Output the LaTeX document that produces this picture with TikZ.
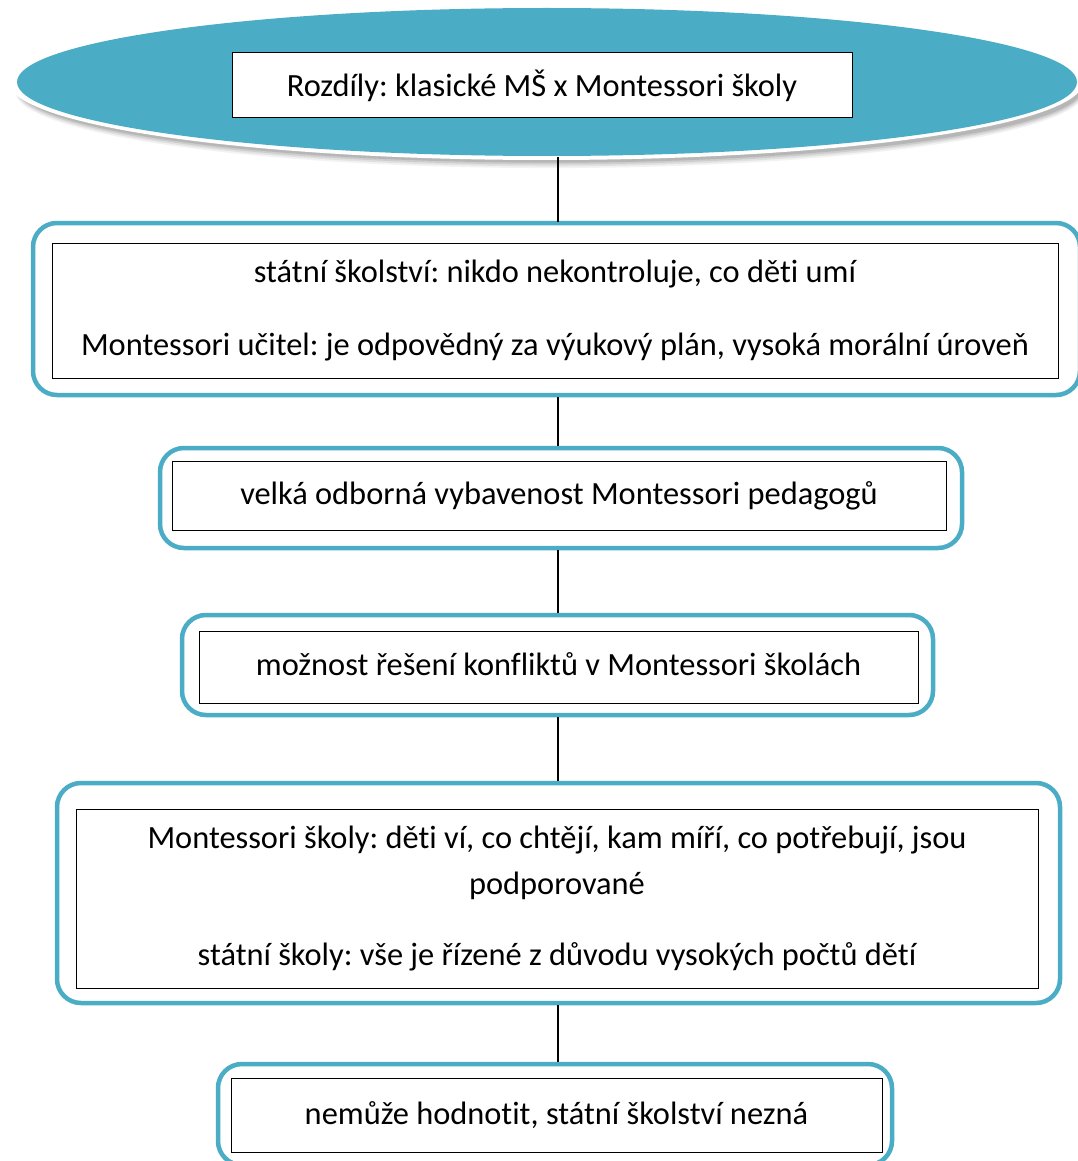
\documentclass[tikz,border=0pt]{standalone}
\usepackage{fontspec}
\setmainfont{Carlito}[Ligatures={NoCommon}]
\usetikzlibrary{shapes.geometric}
\definecolor{accent}{HTML}{4BACC6}
\begin{document}
\frenchspacing
\begin{tikzpicture}[x=1pt,y=-1pt,
  frame/.style={draw=accent,line width=4.5pt,rounded corners=24pt,fill=white,inner sep=0pt},
  inbox/.style={draw=black,line width=1pt,fill=white,inner sep=0pt,align=center,
    font=\fontsize{32.4}{46}\selectfont},
  link/.style={draw=black,line width=1.4pt}]
\useasboundingbox (0,0) rectangle (1078,1161);

% title ellipse with its soft shadow and white rim
\foreach \o/\a in {9/0.05,7/0.07,5/0.09,3/0.11}
  \fill[black,opacity=\a] (550,86+\o*0.6) ellipse [x radius=532+\o*0.3, y radius=74+\o*0.3];
\fill[white] (546,82) ellipse [x radius=537, y radius=78];
\node[ellipse,fill=accent,minimum width=1060pt,minimum height=148pt,inner sep=0pt] (top) at (547,82) {};
\node[inbox,minimum width=620pt,minimum height=65pt] (title) at (542,85.5) {Rozdíly: klasické MŠ x Montessori školy};

% step boxes: blue rounded frame with an inner black box
\node[frame,minimum width=1047pt,minimum height=172pt] (f1) at (556.5,309) {};
\node[inbox,minimum width=1006pt,minimum height=135pt] (b1) at (555,310.5)
  {státní školství: nikdo nekontroluje, co děti umí\\[27pt]
   Montessori učitel: je odpovědný za výukový plán, vysoká morální úroveň};

\node[frame,minimum width=802pt,minimum height=100pt] (f2) at (561,498) {};
\node[inbox,minimum width=774pt,minimum height=69pt] (b2) at (559,495.5)
  {velká odborná vybavenost Montessori pedagogů};

\node[frame,minimum width=751pt,minimum height=100pt] (f3) at (557.5,665) {};
\node[inbox,minimum width=719pt,minimum height=72pt] (b3) at (558.5,667)
  {\raisebox{5pt}{možnost řešení konfliktů v Montessori školách}};

\node[frame,minimum width=1003pt,minimum height=220pt] (f4) at (558.5,893) {};
\node[inbox,minimum width=962pt,minimum height=179pt] (b4) at (557,898.5)
  {Montessori školy: děti ví, co chtějí, kam míří, co potřebují, jsou\\
   podporované\\[25pt]
   státní školy: vše je řízené z důvodu vysokých počtů dětí};

\node[frame,minimum width=674pt,minimum height=101pt] (f5) at (555,1114.5) {};
\node[inbox,minimum width=651pt,minimum height=74pt] (b5) at (556.5,1115)
  {\raisebox{3pt}{nemůže hodnotit, státní školství nezná}};

% connectors
\draw[link] (558,157) -- (558,222);
\draw[link] (f1.south -| 558,0) -- (f2.north -| 558,0);
\draw[link] (f2.south -| 558,0) -- (f3.north -| 558,0);
\draw[link] (f3.south -| 558,0) -- (f4.north -| 558,0);
\draw[link] (f4.south -| 558,0) -- (f5.north -| 558,0);
\end{tikzpicture}
\end{document}
